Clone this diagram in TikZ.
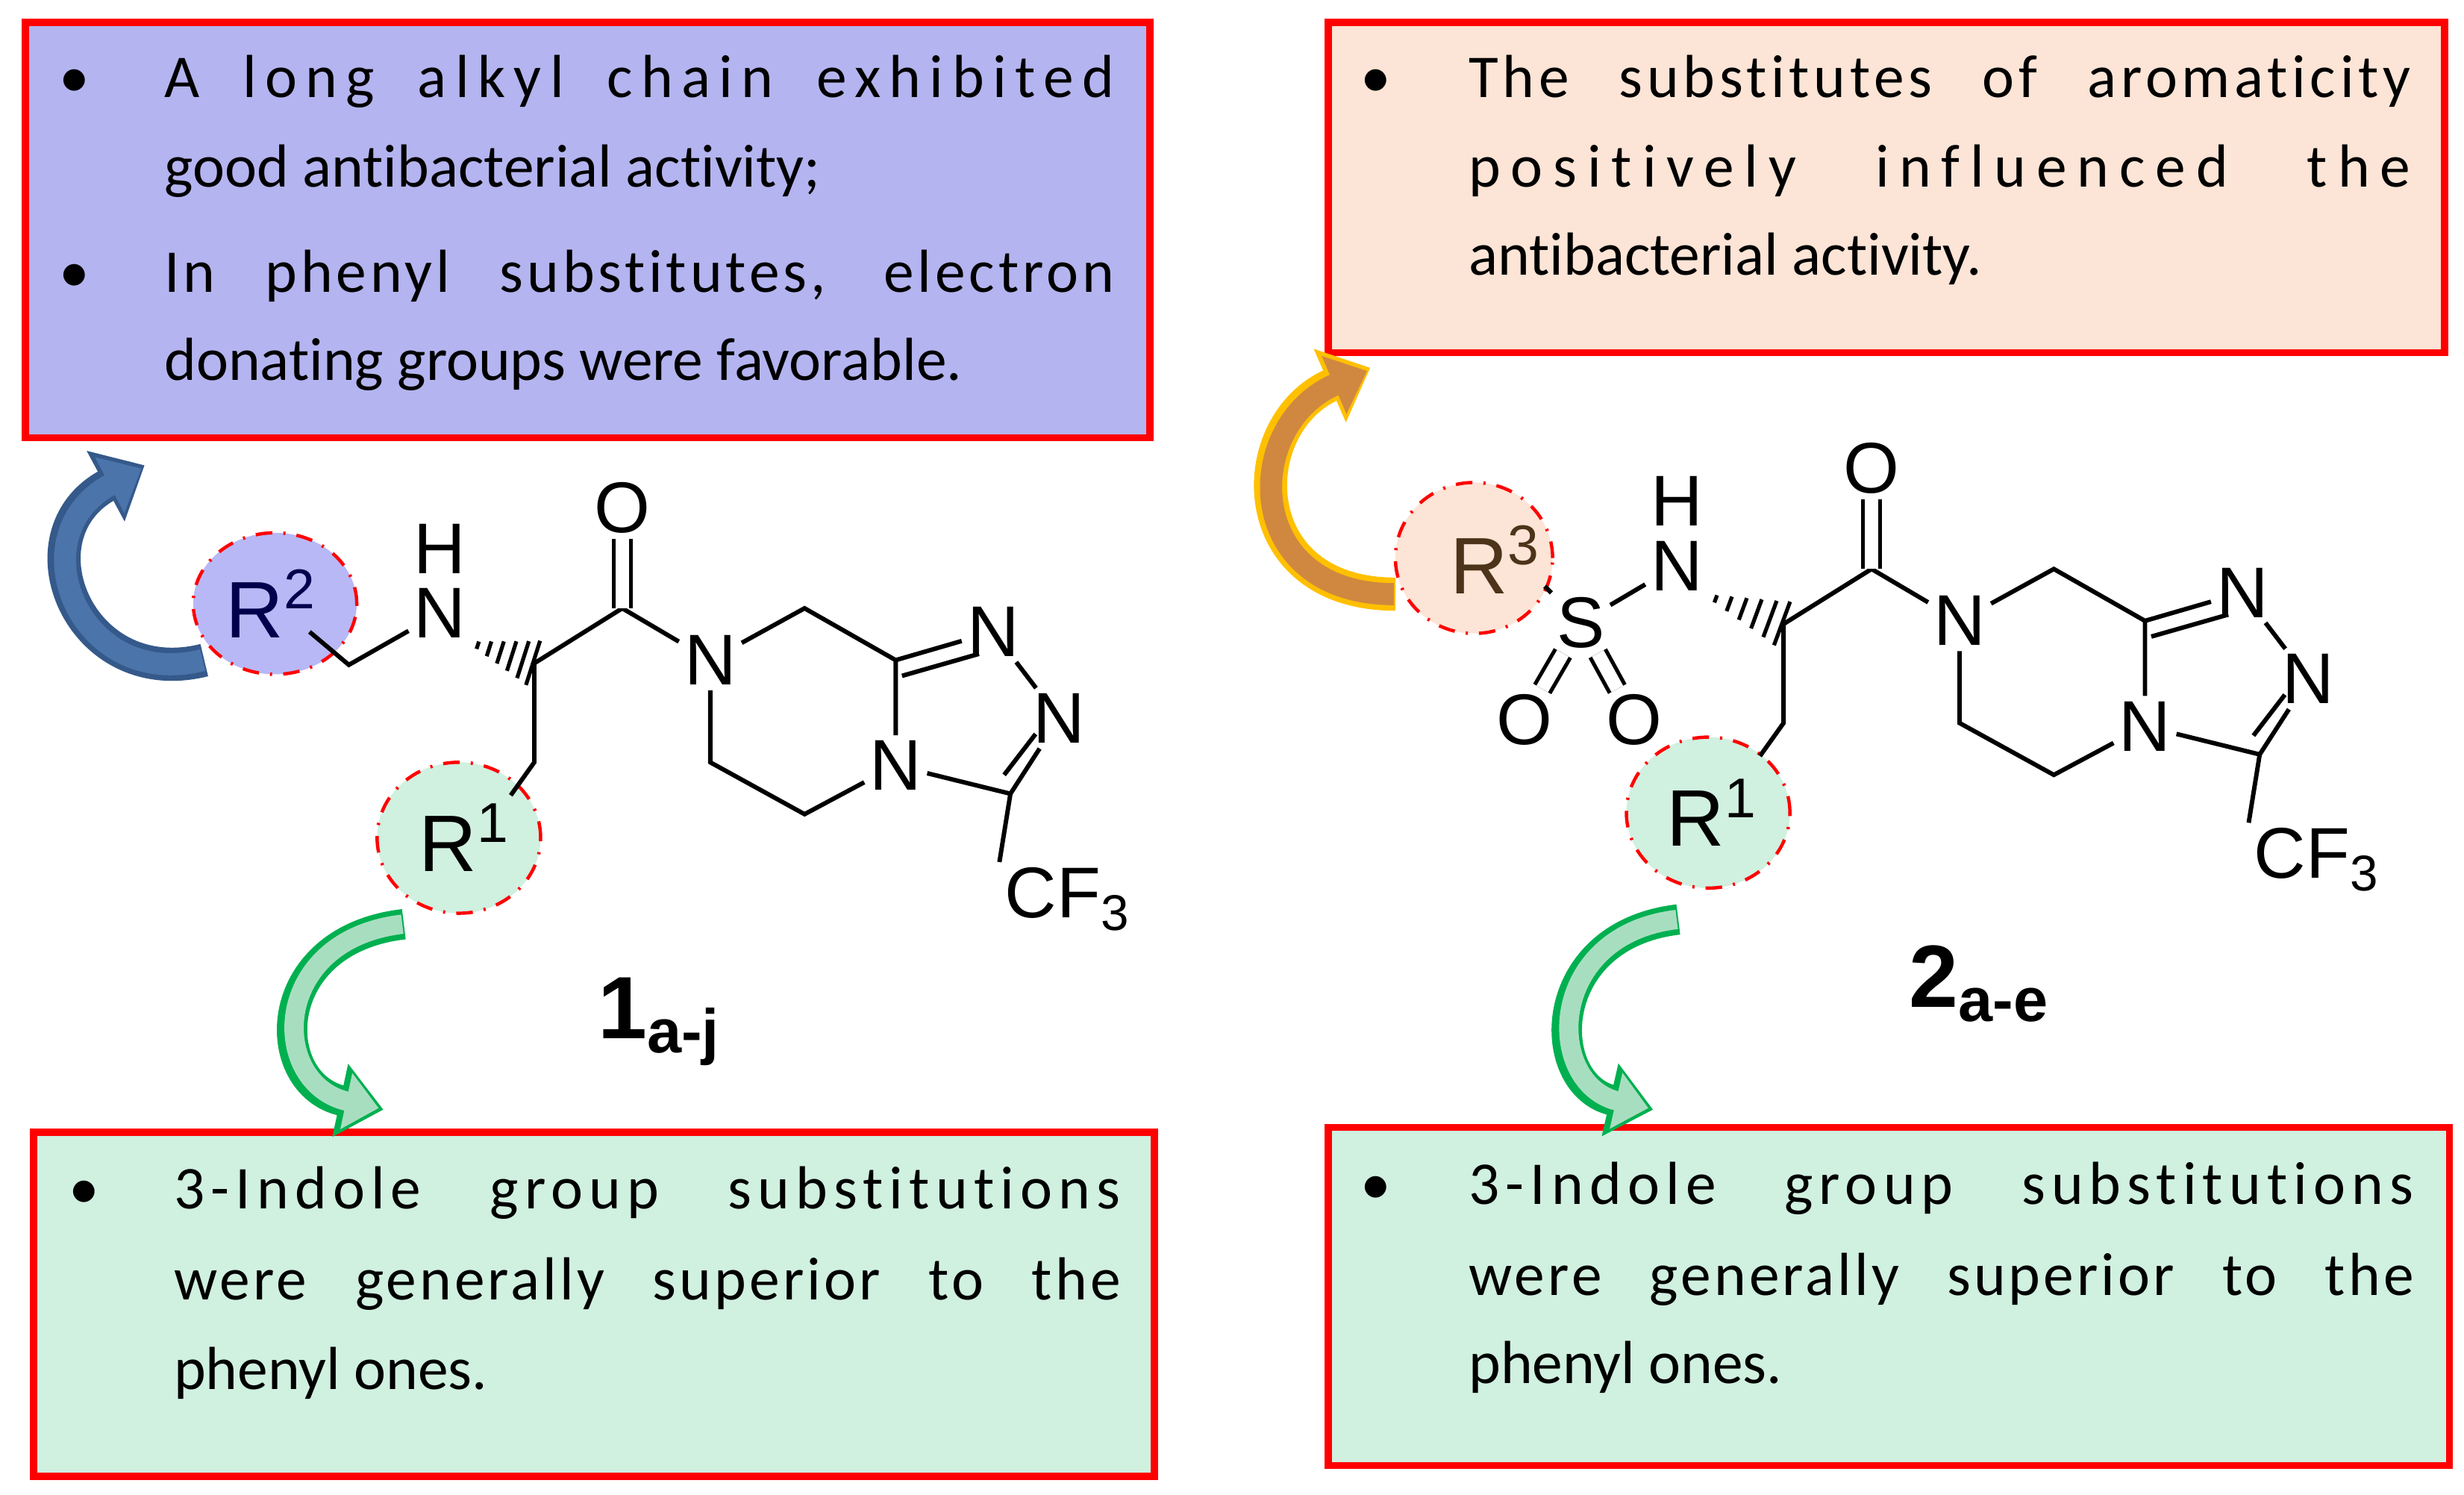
\documentclass[tikz,border=0pt]{standalone}
\usepackage{fontspec}
\setmainfont{Carlito}[Ligatures=NoCommon]
\newfontfamily\chem{Liberation Sans}
\usetikzlibrary{arrows.meta,calc,shapes.geometric}
\definecolor{boxred}{HTML}{FF0000}
\definecolor{lav}{HTML}{B4B4F0}
\definecolor{lavc}{HTML}{B8B8F6}
\definecolor{peach}{HTML}{FCE4D6}
\definecolor{mint}{HTML}{D0F0E0}
\definecolor{blueA}{HTML}{4A74AA}
\definecolor{blueO}{HTML}{35598A}
\definecolor{greenO}{HTML}{00B050}
\definecolor{greenF}{HTML}{A8DEC0}
\definecolor{orO}{HTML}{FFC000}
\definecolor{orF}{HTML}{D08840}
\newcommand{\ls}[3]{{\addfontfeature{LetterSpace=#1}\makebox[#2][s]{#3}}}
\tikzset{
 box/.style={draw=boxred,line width=1.3pt},
 txt/.style={anchor=base west,inner sep=0pt,font=\fontsize{11}{13}\selectfont},
 atom/.style={inner sep=0.8pt,font=\chem\fontsize{13}{15}\selectfont},
 ratom/.style={inner sep=0.8pt,font=\chem\fontsize{14.5}{16}\selectfont},
 bond/.style={line width=0.8pt},
 dbond/.style={double,double distance=2.4pt,line width=0.7pt},
 rcirc/.style={draw=red,dash dot,line width=0.6pt,ellipse,inner sep=0pt},
}
\newcommand{\hashw}[2]{\foreach \t/\w in {0.1/0.7,0.28/1.4,0.46/2.1,0.64/2.8,0.82/3.5,0.98/4.2}{\draw[line width=0.7pt] ($(#1)!\t!(#2)!\w pt!90:(#2)$) -- ($(#1)!\t!(#2)!\w pt!-90:(#2)$);}}
\begin{document}
\begin{tikzpicture}[x=0.01cm,y=-0.01cm]
\useasboundingbox (0,0) rectangle (1568,951);
% boxes
\node[box,fill=lav,minimum width=7.15cm,minimum height=2.64cm,anchor=north west] (b1) at (14,12) {};
\node[box,fill=peach,minimum width=7.10cm,minimum height=2.10cm,anchor=north west] (b2) at (843,12) {};
\node[box,fill=mint,minimum width=7.13cm,minimum height=2.19cm,anchor=north west] (b3) at (19,718) {};
\node[box,fill=mint,minimum width=7.13cm,minimum height=2.15cm,anchor=north west] (b4) at (843,715) {};
% box texts
\node[txt] (t1b) at (37,62) {•};
\node[txt] (t1a) at (104,62) {\ls{14}{6.04cm}{A long alkyl chain exhibited}};
\node[txt] (t1c) at (104,119) {good antibacterial activity;};
\node[txt] (t1d) at (37,186) {•};
\node[txt] (t1e) at (104,186) {\ls{6}{6.04cm}{In phenyl substitutes, electron}};
\node[txt] (t1f) at (104,242) {donating groups were favorable.};
\node[txt] (t2b) at (865,62) {•};
\node[txt] (t2a) at (934,62) {\ls{7}{5.99cm}{The substitutes of aromaticity}};
\node[txt] (t2c) at (934,119) {\ls{17}{5.99cm}{positively influenced the}};
\node[txt] (t2d) at (934,175) {antibacterial activity.};
\node[txt] (t3b) at (43,769) {•};
\node[txt] (t3a) at (110,769) {\ls{10}{6.02cm}{3-Indole group substitutions}};
\node[txt] (t3c) at (110,827) {\ls{5}{6.02cm}{were generally superior to the}};
\node[txt] (t3d) at (110,884) {phenyl ones.};
\node[txt] (t4b) at (865,766) {•};
\node[txt] (t4a) at (934,766) {\ls{10}{6.01cm}{3-Indole group substitutions}};
\node[txt] (t4c) at (934,824) {\ls{5}{6.01cm}{were generally superior to the}};
\node[txt] (t4d) at (934,880) {phenyl ones.};
% circles
\node[rcirc,fill=lavc,minimum width=1.04cm,minimum height=0.90cm] (c2) at (175,384) {};
\node[rcirc,fill=mint,minimum width=1.04cm,minimum height=0.96cm] (c1) at (292,533) {};
\node[rcirc,fill=peach,minimum width=1.00cm,minimum height=0.96cm] (c3) at (938,355) {};
\node[rcirc,fill=mint,minimum width=1.04cm,minimum height=0.96cm] (c1b) at (1087,517) {};
% arrows
\begin{scope}[line cap=butt]
\draw[blueO,line width=6pt,-{Triangle[width=14pt,length=8pt]}] (130,420) .. controls (50,440) and (10,340) .. (92,296);
\draw[blueA,line width=4pt,-{Triangle[width=11pt,length=6.5pt]}] (129,420) .. controls (50,440) and (10,340) .. (90,298);
\draw[orO,line width=6pt,-{Triangle[width=14pt,length=8pt]}] (888,378) .. controls (790,378) and (790,270) .. (872,234);
\draw[orF,line width=4pt,-{Triangle[width=11pt,length=6.5pt]}] (887,378) .. controls (790,378) and (790,270) .. (870,236);
\draw[greenO,line width=5.5pt,-{Triangle[width=13pt,length=8pt]}] (257,588) .. controls (170,598) and (170,690) .. (244,706);
\draw[greenF,line width=3.5pt,-{Triangle[width=10pt,length=6pt]}] (256,588) .. controls (171,598) and (171,690) .. (241,705);
\draw[greenO,line width=5.5pt,-{Triangle[width=13pt,length=8pt]}] (1068,585) .. controls (982,595) and (982,690) .. (1052,706);
\draw[greenF,line width=3.5pt,-{Triangle[width=10pt,length=6pt]}] (1067,585) .. controls (983,595) and (983,690) .. (1049,705);
\end{scope}
% ---- molecule 1 left part
\node[ratom,text=blue!30!black] (r2) at (173,384) {R\textsuperscript{2}};
\coordinate (r2e) at (197,402);
\coordinate (m1ch2) at (222,423);
\node[atom] (n1) at (280,390) {N};
\node[atom] (h1) at (280,349) {H};
\coordinate (m1cs) at (340,422);
\coordinate (m1cb) at (340,485);
\coordinate (m1r1e) at (325,506);
\node[ratom] (r1) at (296,533) {R\textsuperscript{1}};
\draw[bond] (r2e) -- (m1ch2) -- (n1);
\hashw{n1.south east}{m1cs}
\draw[bond] (m1cs) -- (m1cb) -- (m1r1e);
% ---- molecule 2 left part
\node[ratom,text=brown!40!black] (r3) at (952,356) {R\textsuperscript{3}};
\node[atom] (s) at (1006,396) {S};
\node[atom] (ol) at (970,458) {O};
\node[atom] (or) at (1040,458) {O};
\node[atom] (n2) at (1067,360) {N};
\node[atom] (h2) at (1067,319) {H};
\coordinate (m2cs) at (1135,397);
\coordinate (m2cb) at (1135,460);
\coordinate (m2r1e) at (1120,481);
\node[ratom] (r1b) at (1090,517) {R\textsuperscript{1}};
\coordinate (r3e) at (983,373);
\draw[bond] (r3e) -- (s);
\draw[bond] (s) -- (n2);
\draw[dbond] (s) -- (ol);
\draw[dbond] (s) -- (or);
\hashw{n2.south east}{m2cs}
\draw[bond] (m2cs) -- (m2cb) -- (m2r1e);
% ---- common core
\foreach \dx/\dy/\p in {0/0/a,795/-25/b}{
\begin{scope}[shift={(\dx,\dy)}]
\coordinate (\p cs) at (340,422);
\coordinate (\p cc) at (396,387);
\node[atom] (\p o) at (396,323) {O};
\node[atom] (\p nr) at (452,420) {N};
\coordinate (\p ca) at (512,387);
\coordinate (\p c8) at (570,420);
\node[atom] (\p n4) at (570,487) {N};
\coordinate (\p cb) at (512,518);
\coordinate (\p cd) at (452,485);
\node[atom] (\p t1) at (632,402) {N};
\node[atom] (\p t2) at (674,457) {N};
\coordinate (\p c3) at (643,505);
\node[atom,anchor=west] (\p cf) at (636,572) {CF\textsubscript{3}};
\draw[bond] (\p cs) -- (\p cc) -- (\p nr) -- (\p ca) -- (\p c8) -- (\p n4) -- (\p cb) -- (\p cd) -- (\p nr);
\draw[dbond] (\p cc) -- (\p o);
\draw[bond] (\p c8) -- (\p t1);
\draw[bond] ($(\p c8)+(4,10)$) -- ($(\p t1)+(-9,14)$);
\draw[bond] (\p t1) -- (\p t2) -- (\p c3) -- (\p n4);
\draw[bond] ($(\p c3)+(-4,-12)$) -- ($(\p t2)+(-15,10)$);
\draw[bond] (\p c3) -- (\p cf.north west);
\end{scope}}
% labels
\node[font=\chem\bfseries\fontsize{16}{18}\selectfont] (lab1) at (420,650) {1\textsubscript{a-j}};
\node[font=\chem\bfseries\fontsize{16}{18}\selectfont] (lab2) at (1260,626) {2\textsubscript{a-e}};
\end{tikzpicture}
\end{document}
